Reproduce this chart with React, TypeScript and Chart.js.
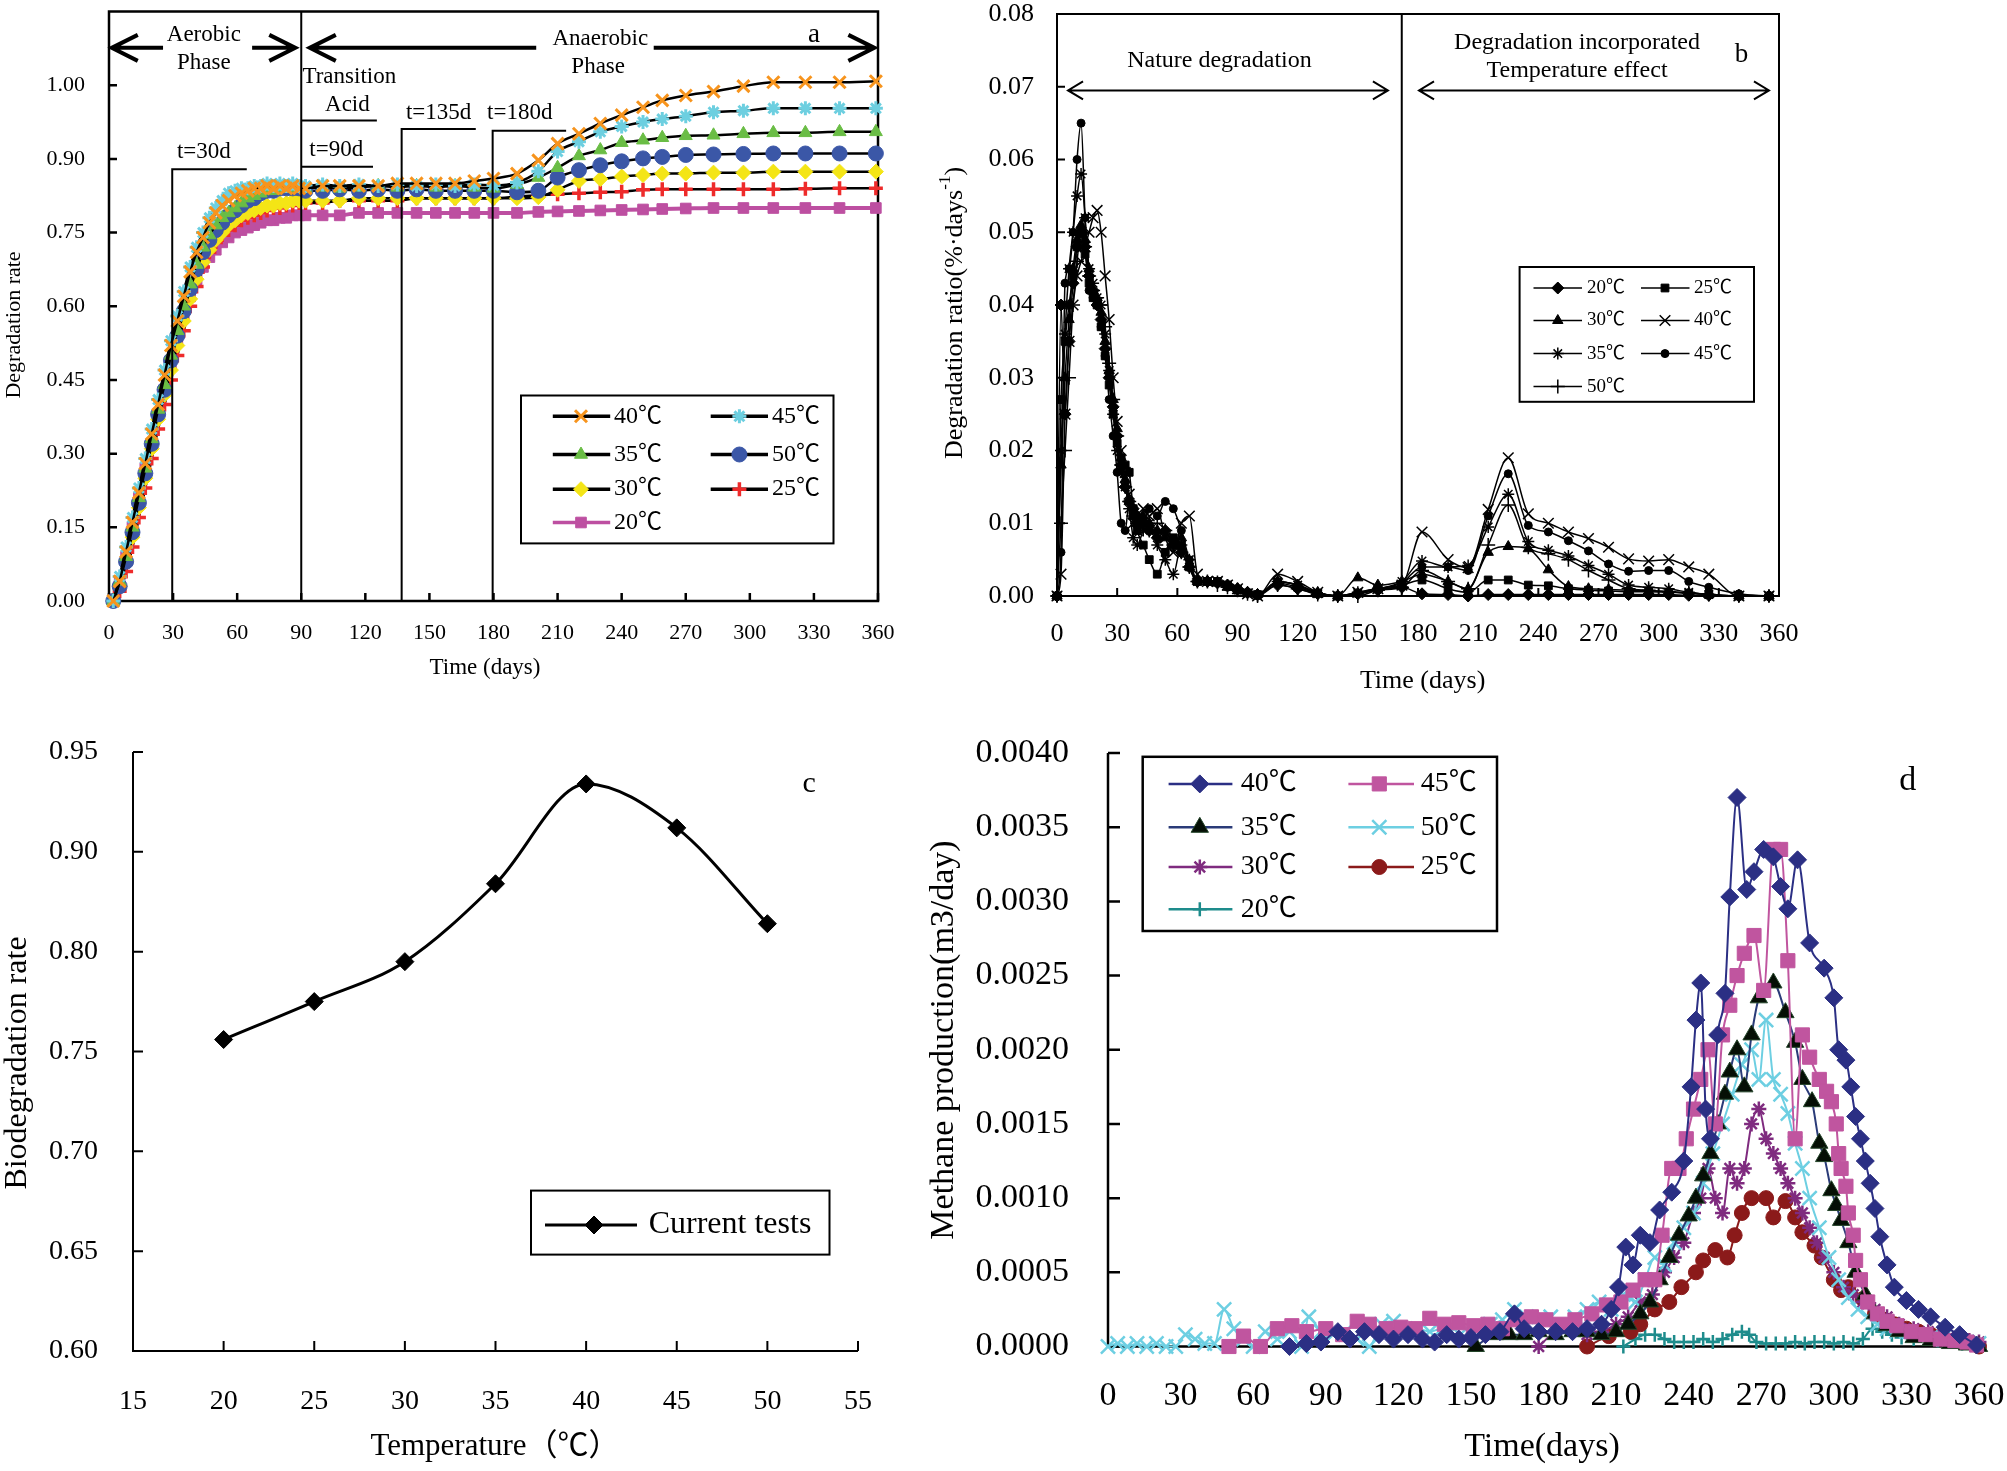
import { useEffect, useRef } from "react";
import Chart from "chart.js/auto";
import { drawPoint } from "chart.js/helpers";

const SERIF = "'Liberation Serif', 'Noto Sans CJK SC', serif";

// ---------- (a) degradation rate ----------
const A_DAYS = [
  2, 5, 8, 11, 14, 17, 20, 23, 26, 29, 32, 35, 38, 41, 44, 47, 50, 53, 56, 59, 62, 65, 68, 71, 74, 77, 80, 83, 86, 89,
  92, 100, 108, 117, 126, 135, 144, 153, 162, 171,
  180, 191, 201, 210, 220, 230, 240, 250, 259, 270, 283, 297, 311, 326, 342, 359,
];
const A_40 = [
  0, 0.04, 0.1, 0.16, 0.22, 0.28, 0.34, 0.4, 0.46, 0.52, 0.57, 0.62, 0.67, 0.71, 0.74, 0.77, 0.79, 0.805, 0.815, 0.825, 0.83, 0.835, 0.84, 0.84, 0.845, 0.84, 0.845, 0.84, 0.845, 0.84,
  0.84, 0.845, 0.845, 0.845, 0.845, 0.85, 0.85, 0.85, 0.85, 0.855,
  0.86, 0.87, 0.897, 0.931, 0.951, 0.972, 0.989, 1.005, 1.019, 1.029, 1.037, 1.048, 1.056, 1.056, 1.056, 1.058,
];
const A_45 = [
  0, 0.05, 0.11, 0.17, 0.23, 0.29, 0.35, 0.41, 0.47, 0.53, 0.58, 0.63, 0.68, 0.72, 0.75, 0.78, 0.8, 0.815, 0.83, 0.835, 0.84, 0.84, 0.845, 0.845, 0.85, 0.845, 0.85, 0.845, 0.85, 0.845,
  0.845, 0.848, 0.845, 0.848, 0.845, 0.848, 0.845, 0.848, 0.845, 0.848,
  0.846, 0.852, 0.875, 0.915, 0.935, 0.955, 0.966, 0.975, 0.981, 0.987, 0.995, 0.998, 1.003, 1.003, 1.003, 1.003,
];
const A_35 = [
  0, 0.04, 0.09, 0.15, 0.21, 0.27, 0.33, 0.39, 0.44, 0.5, 0.55, 0.6, 0.645, 0.685, 0.72, 0.745, 0.765, 0.78, 0.79, 0.8, 0.81, 0.82, 0.825, 0.83, 0.835, 0.835, 0.84, 0.84, 0.84, 0.84,
  0.84, 0.842, 0.84, 0.842, 0.845, 0.842, 0.845, 0.842, 0.845, 0.842,
  0.84, 0.848, 0.862, 0.882, 0.906, 0.918, 0.933, 0.938, 0.943, 0.947, 0.948, 0.951, 0.953, 0.953, 0.955, 0.955,
];
const A_50 = [
  0, 0.03, 0.08, 0.14, 0.2, 0.26, 0.32, 0.38, 0.43, 0.49, 0.54, 0.59, 0.635, 0.675, 0.71, 0.735, 0.755, 0.77, 0.785, 0.795, 0.805, 0.815, 0.82, 0.83, 0.835, 0.835, 0.84, 0.84, 0.84, 0.84,
  0.835, 0.835, 0.838, 0.835, 0.838, 0.835, 0.838, 0.835, 0.835, 0.835,
  0.835, 0.832, 0.835, 0.862, 0.877, 0.887, 0.895, 0.901, 0.904, 0.908, 0.909, 0.91, 0.911, 0.911, 0.911, 0.911,
];
const A_30 = [
  0, 0.03, 0.08, 0.13, 0.19, 0.25, 0.31, 0.37, 0.42, 0.47, 0.52, 0.57, 0.615, 0.655, 0.69, 0.715, 0.735, 0.75, 0.765, 0.775, 0.785, 0.79, 0.795, 0.8, 0.805, 0.805, 0.81, 0.81, 0.815, 0.815,
  0.815, 0.815, 0.815, 0.82, 0.82, 0.82, 0.82, 0.82, 0.82, 0.82,
  0.82, 0.82, 0.822, 0.837, 0.855, 0.859, 0.864, 0.867, 0.87, 0.87, 0.872, 0.872, 0.874, 0.874, 0.874, 0.874,
];
const A_25 = [
  0, 0.02, 0.06, 0.11, 0.17, 0.23, 0.29, 0.35, 0.4, 0.45, 0.5, 0.55, 0.6, 0.64, 0.68, 0.71, 0.73, 0.745, 0.755, 0.765, 0.775, 0.78, 0.785, 0.79, 0.795, 0.8, 0.8, 0.805, 0.805, 0.81,
  0.81, 0.81, 0.815, 0.815, 0.815, 0.815, 0.82, 0.82, 0.82, 0.82,
  0.82, 0.823, 0.826, 0.828, 0.83, 0.832, 0.833, 0.837, 0.838, 0.838, 0.838, 0.838, 0.838, 0.839, 0.84, 0.84,
];
const A_20 = [
  0, 0.04, 0.09, 0.15, 0.21, 0.27, 0.32, 0.38, 0.43, 0.48, 0.53, 0.58, 0.62, 0.655, 0.68, 0.7, 0.715, 0.73, 0.74, 0.75, 0.755, 0.76, 0.765, 0.77, 0.775, 0.775, 0.78, 0.78, 0.785, 0.785,
  0.785, 0.785, 0.785, 0.79, 0.79, 0.79, 0.79, 0.79, 0.79, 0.79,
  0.79, 0.79, 0.792, 0.793, 0.794, 0.795, 0.796, 0.797, 0.798, 0.799, 0.8, 0.8, 0.8, 0.8, 0.8, 0.8,
];
const A_LABELS = ["40℃", "45℃", "35℃", "50℃", "30℃", "25℃", "20℃"];
const A_X_TICKS = [0, 30, 60, 90, 120, 150, 180, 210, 240, 270, 300, 330, 360];
const A_Y_TICKS = [0, 0.15, 0.3, 0.45, 0.6, 0.75, 0.9, 1.05];
const A_Y_LABELS = ["0.00", "0.15", "0.30", "0.45", "0.60", "0.75", "0.90", "1.00"];

// ---------- (b) degradation ratio ----------
const B_DAYS = [
  0, 2, 4, 6, 8, 10, 12, 14, 16, 18, 20, 22, 24, 26, 28, 30, 32, 34, 36, 38, 40,
  43, 46, 50, 54, 58, 62, 66, 70, 75, 80, 85, 90, 95, 100, 110, 120, 130, 140, 150, 160, 172,
  182, 195, 205, 215, 225, 235, 245, 255, 265, 275, 285, 295, 305, 315, 325, 340, 355,
];
const B_20 = [
  0, 0.04, 0.025, 0.035, 0.043, 0.048, 0.05, 0.048, 0.044, 0.042, 0.04, 0.038, 0.034, 0.03, 0.026, 0.022, 0.018, 0.015, 0.013, 0.012, 0.011,
  0.01, 0.009, 0.008, 0.009, 0.007, 0.006, 0.004, 0.002, 0.002, 0.0018, 0.0015, 0.001, 0.0005, 0.0002, 0.0015, 0.001, 0.0003, 0, 0.0003, 0.0008, 0.0012,
  0.0003, 0.0002, 0, 0.0002, 0.0002, 0.0002, 0.0002, 0.0002, 0.0002, 0.0002, 0.0002, 0.0002, 0.0002, 0.0001, 0.0001, 0, 0,
];
const B_25 = [
  0, 0.027, 0.035, 0.04, 0.044, 0.048, 0.05, 0.047, 0.043, 0.041, 0.04, 0.037, 0.033, 0.029, 0.025, 0.021, 0.019, 0.018, 0.017, 0.012, 0.009,
  0.007, 0.005, 0.003, 0.006, 0.008, 0.007, 0.004, 0.002, 0.002, 0.002, 0.0015, 0.0008, 0.0004, 0.0002, 0.0018, 0.0012, 0.0004, 0, 0.0004, 0.001, 0.0015,
  0.0022, 0.001, 0.0005, 0.0022, 0.0022, 0.0015, 0.0014, 0.001, 0.0008, 0.0007, 0.0006, 0.0006, 0.0005, 0.0004, 0.0002, 0, 0,
];
const B_30 = [
  0, 0.018, 0.03, 0.038, 0.045, 0.049, 0.051, 0.049, 0.045, 0.042, 0.041, 0.039, 0.035, 0.031, 0.027, 0.023, 0.019, 0.016, 0.013, 0.011, 0.01,
  0.011, 0.01, 0.009, 0.008, 0.007, 0.008, 0.004, 0.002, 0.002, 0.0018, 0.0012, 0.001, 0.0005, 0.0002, 0.002, 0.0015, 0.0005, 0, 0.0025, 0.0015, 0.002,
  0.003, 0.002, 0.001, 0.006, 0.0068, 0.0065, 0.0036, 0.0013, 0.001, 0.0009, 0.0008, 0.0007, 0.0006, 0.0004, 0.0002, 0, 0,
];
const B_40 = [
  0, 0.003, 0.025, 0.035, 0.04, 0.044, 0.046, 0.048, 0.05, 0.052, 0.053, 0.05, 0.044, 0.038, 0.03, 0.024, 0.02, 0.017, 0.014, 0.01, 0.009,
  0.012, 0.011, 0.012, 0.008, 0.006, 0.01, 0.011, 0.003, 0.002, 0.002, 0.0015, 0.001, 0.0003, 0, 0.003, 0.002, 0.0005, 0, 0.0005, 0.001, 0.0015,
  0.0088, 0.005, 0.0039, 0.0119, 0.019, 0.0113, 0.01, 0.0088, 0.0079, 0.0067, 0.0051, 0.0048, 0.005, 0.004, 0.003, 0, 0,
];
const B_35 = [
  0, 0.02, 0.036, 0.045, 0.05, 0.055, 0.058, 0.052, 0.045, 0.043, 0.041, 0.04, 0.036, 0.031, 0.025, 0.02, 0.017, 0.015, 0.012, 0.008, 0.007,
  0.009, 0.01, 0.007, 0.005, 0.003, 0.007, 0.005, 0.002, 0.002, 0.002, 0.0015, 0.001, 0.0004, 0, 0.002, 0.0015, 0.0003, 0, 0.0005, 0.001, 0.002,
  0.0048, 0.004, 0.0042, 0.0095, 0.014, 0.0075, 0.0063, 0.0055, 0.0042, 0.003, 0.0015, 0.0012, 0.001, 0.0005, 0.0002, 0, 0,
];
const B_45 = [
  0, 0.006, 0.043, 0.045, 0.05, 0.06, 0.065, 0.052, 0.042, 0.041, 0.04, 0.037, 0.033, 0.027, 0.022, 0.017, 0.01, 0.009, 0.013, 0.011, 0.01,
  0.01, 0.012, 0.011, 0.013, 0.012, 0.009, 0.005, 0.002, 0.002, 0.0018, 0.0012, 0.0008, 0.0004, 0, 0.002, 0.0015, 0.0004, 0, 0.0004, 0.001, 0.0018,
  0.004, 0.004, 0.0035, 0.011, 0.0168, 0.0097, 0.0088, 0.0076, 0.0062, 0.0044, 0.0034, 0.0035, 0.0035, 0.002, 0.0012, 0.0003, 0,
];
const B_50 = [
  0, 0.01, 0.02, 0.03, 0.04, 0.046, 0.05, 0.048, 0.044, 0.042, 0.041, 0.04, 0.037, 0.032, 0.027, 0.022, 0.018, 0.015, 0.013, 0.011, 0.01,
  0.01, 0.009, 0.01, 0.009, 0.007, 0.006, 0.004, 0.002, 0.002, 0.0015, 0.0012, 0.0008, 0.0003, 0, 0.0015, 0.001, 0.0002, 0, 0, 0.0008, 0.0012,
  0.0035, 0.002, 0.001, 0.007, 0.0125, 0.0067, 0.0058, 0.005, 0.0035, 0.0022, 0.001, 0.0008, 0.0006, 0.0004, 0.0002, 0, 0,
];
const B_LABELS = ["20℃", "25℃", "30℃", "40℃", "35℃", "45℃", "50℃"];
const B_Y_TICKS = [0, 0.01, 0.02, 0.03, 0.04, 0.05, 0.06, 0.07, 0.08];

// ---------- (c) biodegradation vs temperature ----------
const C_TEMPS = [20, 25, 30, 35, 40, 45, 50];
const C_RATE = [0.756, 0.775, 0.795, 0.834, 0.884, 0.862, 0.814];
const C_X_TICKS = [15, 20, 25, 30, 35, 40, 45, 50, 55];
const C_Y_TICKS = [0.6, 0.65, 0.7, 0.75, 0.8, 0.85, 0.9];
const C_Y_LABELS = ["0.60", "0.65", "0.70", "0.75", "0.80", "0.90", "0.95"];

// ---------- (d) methane production ----------
const D40_DAYS = [75, 82, 88, 95, 100, 106, 112, 118, 124, 130, 135, 140, 145, 150, 156, 162, 168, 172, 178, 185, 192, 198, 204, 208, 211, 214, 217, 220, 224, 228, 233, 238, 241, 243, 245, 247, 249, 252, 255, 257, 260, 264, 267, 271, 275, 278, 281, 285, 290, 296, 300, 302, 305, 307, 309, 311, 313, 315, 317, 319, 322, 325, 330, 335, 340, 346, 352, 359];
const D40 = [0, 0.00002, 0.00003, 0.0001, 0.00005, 0.0001, 0.00008, 0.00005, 0.00008, 0.00005, 0.00003, 0.00008, 0.00005, 0.00006, 0.00008, 0.0001, 0.00022, 0.00012, 0.0001, 0.0001, 0.0001, 0.00012, 0.00015, 0.00025, 0.0004, 0.00067, 0.00055, 0.00075, 0.0007, 0.00092, 0.00104, 0.00125, 0.00175, 0.0022, 0.00245, 0.0016, 0.0014, 0.0021, 0.00238, 0.00303, 0.0037, 0.00308, 0.0032, 0.00335, 0.0033, 0.0031, 0.00295, 0.00328, 0.00272, 0.00255, 0.00235, 0.002, 0.00193, 0.00175, 0.00155, 0.0014, 0.00125, 0.0011, 0.00093, 0.00074, 0.00055, 0.0004, 0.00031, 0.00025, 0.0002, 0.00013, 0.00008, 0.00001];
const D45_DAYS = [50, 56, 63, 70, 76, 82, 90, 97, 103, 108, 115, 121, 127, 133, 139, 145, 151, 157, 163, 169, 175, 181, 187, 193, 200, 206, 212, 217, 222, 226, 229, 233, 236, 239, 242, 245, 248, 251, 254, 257, 260, 263, 267, 271, 275, 278, 281, 284, 287, 290, 294, 297, 299, 301, 302, 303, 305, 306, 308, 309, 311, 314, 318, 322, 326, 332, 338, 344, 350, 355, 359];
const D45 = [0, 0.00007, 0, 0.00012, 0.00014, 0.0001, 0.00012, 0.00008, 0.00017, 0.00015, 0.00012, 0.00013, 0.00012, 0.00019, 0.00015, 0.00016, 0.00014, 0.00015, 0.00012, 0.00018, 0.0002, 0.00018, 0.00015, 0.00018, 0.00022, 0.00028, 0.0003, 0.00038, 0.00045, 0.00045, 0.00075, 0.0012, 0.0012, 0.0014, 0.0016, 0.0018, 0.002, 0.0015, 0.0021, 0.0023, 0.0025, 0.00265, 0.00277, 0.0024, 0.00335, 0.00335, 0.0026, 0.0014, 0.0021, 0.00195, 0.0018, 0.00172, 0.00165, 0.0015, 0.0013, 0.0012, 0.00108, 0.0009, 0.00075, 0.00058, 0.00045, 0.0003, 0.00022, 0.00017, 0.00014, 0.0001, 0.00008, 0.00005, 0.00004, 0.00003, 0.00001];
const D35_DAYS = [152, 160, 166, 172, 178, 185, 192, 198, 204, 210, 215, 220, 224, 228, 232, 236, 240, 243, 246, 249, 252, 255, 257, 260, 263, 266, 269, 275, 280, 284, 287, 291, 294, 296, 299, 301, 303, 306, 309, 313, 317, 322, 327, 333, 340, 348, 355, 360];
const D35 = [0, 0.00008, 0.00008, 0.00008, 0.0001, 0.00008, 0.0001, 0.0001, 0.00008, 0.0001, 0.00015, 0.00022, 0.0003, 0.00045, 0.0006, 0.00075, 0.00088, 0.001, 0.00115, 0.0013, 0.0015, 0.0017, 0.00185, 0.002, 0.00175, 0.0021, 0.00235, 0.00245, 0.00225, 0.00205, 0.0018, 0.00165, 0.00137, 0.00128, 0.00105, 0.00095, 0.00085, 0.0007, 0.0005, 0.00035, 0.00022, 0.00014, 0.0001, 0.00006, 0.00004, 0.00002, 0.00001, 0];
const D50_DAYS = [0, 4, 8, 12, 16, 20, 24, 28, 32, 36, 40, 44, 48, 52, 56, 60, 65, 70, 75, 80, 83, 88, 93, 98, 103, 108, 113, 118, 123, 128, 133, 138, 143, 148, 153, 158, 163, 168, 173, 178, 183, 188, 193, 198, 203, 208, 213, 218, 222, 226, 230, 234, 238, 242, 246, 250, 254, 258, 262, 266, 269, 272, 275, 278, 281, 284, 287, 290, 294, 298, 302, 306, 310, 314, 318, 322, 326, 330, 335, 340, 345, 350, 355, 360];
const D50 = [0, 0.00002, 0, 0.00002, 0, 0.00002, 0, 0, 0.00008, 0.00005, 0.00002, 0.00002, 0.00025, 0.00012, 0.00005, 0, 0.0001, 0.00005, 0.0001, 0, 0.0002, 0.0001, 0.00008, 0.0001, 0.00005, 0, 0.00015, 0.00017, 0.0001, 0.00012, 0.0001, 0.00012, 0.00012, 0.00012, 0.00012, 0.00015, 0.00018, 0.00025, 0.0002, 0.00015, 0.0002, 0.00012, 0.0002, 0.00025, 0.0003, 0.00025, 0.00035, 0.0003, 0.00045, 0.0006, 0.00055, 0.0007, 0.0008, 0.0009, 0.0011, 0.0013, 0.0015, 0.0017, 0.0019, 0.002, 0.0018, 0.0022, 0.0018, 0.0017, 0.00157, 0.00137, 0.0012, 0.001, 0.0008, 0.0006, 0.00045, 0.00033, 0.00025, 0.0002, 0.00015, 0.00012, 0.0001, 0.0001, 0.00008, 0.00006, 0.00005, 0.00004, 0.00003, 0.00002];
const D30_DAYS = [178, 185, 192, 198, 204, 210, 215, 220, 225, 230, 234, 238, 242, 245, 248, 251, 254, 257, 260, 263, 266, 269, 272, 275, 278, 281, 284, 287, 290, 293, 296, 300, 304, 308, 312, 317, 322, 327, 333, 339, 345, 351, 356, 360];
const D30 = [0, 0.0001, 0.00012, 0.00008, 0.0001, 0.00015, 0.0002, 0.0003, 0.00035, 0.0005, 0.0006, 0.0007, 0.0009, 0.001, 0.0012, 0.001, 0.0009, 0.0012, 0.0011, 0.0012, 0.0015, 0.0016, 0.0014, 0.0013, 0.0012, 0.0011, 0.001, 0.0009, 0.0008, 0.0007, 0.0006, 0.0005, 0.0004, 0.00035, 0.0003, 0.00025, 0.0002, 0.00015, 0.00012, 0.0001, 0.00008, 0.00006, 0.00004, 0.00003];
const D25_DAYS = [198, 207, 216, 220, 226, 232, 237, 243, 246, 251, 256, 259, 262, 266, 272, 275, 280, 284, 287, 292, 295, 300, 303, 306, 312, 317, 321, 325, 330, 335, 340, 345, 350, 355, 360];
const D25 = [0, 0.00007, 0.0001, 0.00015, 0.00025, 0.0003, 0.0004, 0.0005, 0.00058, 0.00065, 0.0006, 0.00075, 0.0009, 0.001, 0.001, 0.00087, 0.00098, 0.00087, 0.00077, 0.00068, 0.0006, 0.00045, 0.00038, 0.0004, 0.00032, 0.00022, 0.00018, 0.00015, 0.00012, 0.0001, 0.00008, 0.00006, 0.00004, 0.00003, 0];
const D20_DAYS = [213, 218, 222, 226, 230, 234, 238, 242, 246, 250, 254, 258, 262, 265, 268, 272, 276, 280, 284, 288, 292, 296, 300, 304, 308, 312, 316, 320, 324, 328, 333, 338, 343, 348, 353, 358];
const D20 = [0, 0.00005, 0.00008, 0.00008, 0.00005, 0.00003, 0.00003, 0.00003, 0.00005, 0.00003, 0.00005, 0.00008, 0.0001, 0.00008, 0.00003, 0.00002, 0.00002, 0.00002, 0.00003, 0.00002, 0.00003, 0.00003, 0.00002, 0.00003, 0.00002, 0.00005, 0.00012, 0.0001, 0.00008, 0.00006, 0.00005, 0.00005, 0.00004, 0.00003, 0.00002, 0.00002];
const D_LABELS = ["40℃", "45℃", "35℃", "50℃", "30℃", "25℃", "20℃"];
const D_Y_TICKS = [0, 0.0005, 0.001, 0.0015, 0.002, 0.0025, 0.003, 0.0035, 0.004];

// ---------- styles ----------
interface Mark { color: string; fill?: string; line: string; point: string; r: number; bw: number }

const A_STYLE: Mark[] = [
  { color: "#F7941D", line: "#000", point: "crossRot", r: 8.5, bw: 3 },
  { color: "#6DCFE0", line: "#000", point: "star", r: 7, bw: 3 },
  { color: "#6ABD45", line: "#000", point: "triangle", r: 7.5, bw: 1 },
  { color: "#3B57A7", line: "#000", point: "circle", r: 7.5, bw: 1 },
  { color: "#F4E516", line: "#000", point: "rectRot", r: 7.5, bw: 1 },
  { color: "#EE2B2B", line: "#000", point: "cross", r: 7, bw: 3.5 },
  { color: "#BD4FA1", line: "#BD4FA1", point: "rect", r: 7.5, bw: 1 },
];
const B_STYLE: Mark[] = [
  { color: "#000", line: "#000", point: "rectRot", r: 6, bw: 1 },
  { color: "#000", line: "#000", point: "rect", r: 5.5, bw: 1 },
  { color: "#000", line: "#000", point: "triangle", r: 6, bw: 1 },
  { color: "#000", line: "#000", point: "crossRot", r: 7.5, bw: 1.5 },
  { color: "#000", line: "#000", point: "star", r: 6, bw: 1.5 },
  { color: "#000", line: "#000", point: "circle", r: 4, bw: 1 },
  { color: "#000", line: "#000", point: "cross", r: 7, bw: 1.5 },
];
const C_STYLE: Mark = { color: "#000", line: "#000", point: "rectRot", r: 9, bw: 1 };
const D_STYLE: Mark[] = [
  { color: "#2B2F84", line: "#2B2F84", point: "rectRot", r: 9, bw: 1 },
  { color: "#C0559F", line: "#C0559F", point: "rect", r: 10, bw: 1 },
  { color: "#24452A", fill: "#050F05", line: "#2A3B78", point: "triangle", r: 10, bw: 1 },
  { color: "#6DCFE2", line: "#6DCFE2", point: "crossRot", r: 10, bw: 2.5 },
  { color: "#7F2B7F", line: "#7F2B7F", point: "star", r: 7.5, bw: 2.5 },
  { color: "#8B1A1A", line: "#8B1A1A", point: "circle", r: 7.5, bw: 1 },
  { color: "#1E8C8C", line: "#1E8C8C", point: "cross", r: 7, bw: 2.5 },
];

// ---------- helpers ----------
const font = (size: number) => ({ family: SERIF, size, lineHeight: 1 });

function lineSet(label: string, xs: number[], ys: number[], st: Mark, width: number, clip: any = false) {
  return {
    label,
    data: xs.map((x, i) => ({ x, y: ys[i] })),
    borderColor: st.line,
    borderWidth: width,
    pointStyle: st.point,
    pointRadius: st.r,
    pointBackgroundColor: st.fill ?? st.color,
    pointBorderColor: st.color,
    pointBorderWidth: st.bw,
    cubicInterpolationMode: "monotone",
    fill: false,
    clip,
  };
}

function zeroPad(s: any) {
  s.paddingTop = 0;
  s.paddingBottom = 0;
  s.paddingLeft = 0;
  s.paddingRight = 0;
}

function scaleX(ticks: number[], min: number, max: number, size: number, pad: number, height: number) {
  return {
    type: "linear",
    min,
    max,
    afterBuildTicks: (s: any) => { s.ticks = ticks.map((value) => ({ value })); },
    afterFit: (s: any) => { s.height = height; zeroPad(s); },
    grid: { display: false, drawTicks: false },
    border: { display: false },
    ticks: { font: font(size), color: "#000", padding: pad, maxRotation: 0, autoSkip: false },
  };
}

function scaleY(ticks: number[], labels: string[], min: number, max: number, size: number, pad: number, width: number) {
  return {
    type: "linear",
    min,
    max,
    afterBuildTicks: (s: any) => { s.ticks = ticks.map((value) => ({ value })); },
    afterFit: (s: any) => { s.width = width; zeroPad(s); },
    grid: { display: false, drawTicks: false },
    border: { display: false },
    ticks: { font: font(size), color: "#000", padding: pad, autoSkip: false, callback: (_v: any, i: number) => labels[i] },
  };
}

function drawText(ctx: CanvasRenderingContext2D, text: string, x: number, y: number, size: number, align: CanvasTextAlign = "center", rotate = false) {
  ctx.save();
  ctx.font = `${size}px ${SERIF}`;
  ctx.fillStyle = "#000";
  ctx.textAlign = align;
  ctx.textBaseline = "middle";
  ctx.translate(x, y);
  if (rotate) ctx.rotate(-Math.PI / 2);
  ctx.fillText(text, 0, 0);
  ctx.restore();
}

interface FrameOpts { box: boolean; tick: number; xTicks: boolean; lw: number }

function drawFrame(chart: any, o: FrameOpts) {
  const { ctx, chartArea: a, scales } = chart;
  ctx.save();
  ctx.strokeStyle = "#000";
  ctx.lineWidth = o.lw;
  ctx.beginPath();
  if (o.box) {
    ctx.rect(a.left, a.top, a.right - a.left, a.bottom - a.top);
  } else {
    ctx.moveTo(a.left, a.top);
    ctx.lineTo(a.left, a.bottom);
    ctx.lineTo(a.right, a.bottom);
  }
  ctx.stroke();
  ctx.beginPath();
  scales.y.ticks.forEach((_t: any, i: number) => {
    const y = scales.y.getPixelForTick(i);
    ctx.moveTo(a.left, y);
    ctx.lineTo(a.left + o.tick, y);
  });
  if (o.xTicks) {
    scales.x.ticks.forEach((_t: any, i: number) => {
      const x = scales.x.getPixelForTick(i);
      ctx.moveTo(x, a.bottom);
      ctx.lineTo(x, a.bottom - o.tick);
    });
  }
  ctx.stroke();
  ctx.restore();
}

// double arrow with optional gap for text in the shaft
function hArrow(ctx: CanvasRenderingContext2D, x1: number, x2: number, y: number, head: number, spread: number, lw: number, gap?: [number, number]) {
  ctx.save();
  ctx.strokeStyle = "#000";
  ctx.lineWidth = lw;
  ctx.beginPath();
  if (gap) {
    ctx.moveTo(x1, y); ctx.lineTo(gap[0], y);
    ctx.moveTo(gap[1], y); ctx.lineTo(x2, y);
  } else {
    ctx.moveTo(x1, y); ctx.lineTo(x2, y);
  }
  ctx.moveTo(x1 + head, y - spread); ctx.lineTo(x1, y); ctx.lineTo(x1 + head, y + spread);
  ctx.moveTo(x2 - head, y - spread); ctx.lineTo(x2, y); ctx.lineTo(x2 - head, y + spread);
  ctx.stroke();
  ctx.restore();
}

interface LegendBox {
  box: [number, number, number, number];
  rows: number[];
  cols: { l1: number; l2: number; m: number; t: number }[];
  size: number;
  lw: number;
  lineW: number;
}

function drawLegend(ctx: CanvasRenderingContext2D, lg: LegendBox, labels: string[], styles: Mark[]) {
  const [x1, y1, x2, y2] = lg.box;
  ctx.save();
  ctx.fillStyle = "#fff";
  ctx.fillRect(x1, y1, x2 - x1, y2 - y1);
  ctx.strokeStyle = "#000";
  ctx.lineWidth = lg.lw;
  ctx.strokeRect(x1, y1, x2 - x1, y2 - y1);
  labels.forEach((lab, i) => {
    const c = lg.cols[i % lg.cols.length];
    const y = lg.rows[Math.floor(i / lg.cols.length)];
    const st = styles[i];
    ctx.strokeStyle = st.line;
    ctx.lineWidth = lg.lineW;
    ctx.beginPath();
    ctx.moveTo(c.l1, y);
    ctx.lineTo(c.l2, y);
    ctx.stroke();
    ctx.fillStyle = st.fill ?? st.color;
    ctx.strokeStyle = st.color;
    ctx.lineWidth = st.bw;
    drawPoint(ctx, { pointStyle: st.point as any, radius: st.r, borderWidth: st.bw, rotation: 0 } as any, c.m, y);
    drawText(ctx, lab, c.t, y, lg.size, "left");
  });
  ctx.restore();
}

function baseOptions(top: number, right: number, x: any, y: any) {
  return {
    responsive: false,
    animation: false,
    events: [],
    layout: { padding: { top, right, left: 0, bottom: 0 } },
    plugins: { legend: { display: false }, tooltip: { enabled: false }, title: { display: false } },
    scales: { x, y },
  };
}

function decor(frame: FrameOpts, draw: (chart: any) => void) {
  return {
    id: "decor",
    beforeDatasetsDraw: (chart: any) => drawFrame(chart, frame),
    afterDatasetsDraw: (chart: any) => draw(chart),
  };
}

// ---------- panel a ----------
const A_MARKS = [
  { day: 29.6, top: 0.879, end: 64.5, text: "t=30d", tx: 44.4, ty: 0.915 },
  { day: 90, top: 0.884, end: 123.6, text: "t=90d", tx: 106.4, ty: 0.919 },
  { day: 137, top: 0.961, end: 171.7, text: "t=135d", tx: 154.3, ty: 0.994 },
  { day: 179.6, top: 0.957, end: 214, text: "t=180d", tx: 192.3, ty: 0.994 },
];
const A_LEGEND: LegendBox = {
  box: [521, 395.5, 833.5, 543.4],
  rows: [416.3, 454.5, 489.2, 522.5],
  cols: [{ l1: 552.8, l2: 610.2, m: 581, t: 614 }, { l1: 710.7, l2: 768, m: 739.4, t: 772 }],
  size: 24, lw: 2, lineW: 3.5,
};

function buildA() {
  const series = [A_40, A_45, A_35, A_50, A_30, A_25, A_20];
  const datasets = series.map((ys, i) => lineSet(A_LABELS[i], A_DAYS, ys, A_STYLE[i], i === 6 ? 4 : 2.5, undefined));
  return {
    type: "line",
    data: { datasets },
    options: baseOptions(9, 22, scaleX(A_X_TICKS, 0, 360, 22, 21, 99), scaleY(A_Y_TICKS, A_Y_LABELS, 0, 1.2, 22, 24, 109)),
    plugins: [
      decor({ box: true, tick: 8, xTicks: true, lw: 2.5 }, (chart) => {
        const { ctx, chartArea: ca } = chart;
        const X = (v: number) => chart.scales.x.getPixelForValue(v);
        const Y = (v: number) => chart.scales.y.getPixelForValue(v);
        ctx.save();
        ctx.strokeStyle = "#000";
        ctx.lineWidth = 2;
        ctx.beginPath();
        ctx.moveTo(X(90), ca.top);
        ctx.lineTo(X(90), ca.bottom);
        A_MARKS.forEach((m) => {
          ctx.moveTo(X(m.day), Y(0));
          ctx.lineTo(X(m.day), Y(m.top));
          ctx.lineTo(X(m.end), Y(m.top));
        });
        ctx.moveTo(X(90), Y(0.978));
        ctx.lineTo(X(125.4), Y(0.978));
        ctx.stroke();
        ctx.restore();
        A_MARKS.forEach((m) => drawText(ctx, m.text, X(m.tx), Y(m.ty), 23));
        drawText(ctx, "Transition", X(112.5), Y(1.067), 23);
        drawText(ctx, "Acid", X(111.6), Y(1.01), 23);
        hArrow(ctx, X(1.3), X(87.2), Y(1.126), 26, 13, 4, [X(25.3), X(67)]);
        hArrow(ctx, X(94), X(358.3), Y(1.126), 26, 13, 4, [X(200), X(255)]);
        drawText(ctx, "Aerobic", X(44.4), Y(1.152), 23);
        drawText(ctx, "Phase", X(44.4), Y(1.095), 23);
        drawText(ctx, "Anaerobic", X(230), Y(1.144), 23);
        drawText(ctx, "Phase", X(229), Y(1.088), 23);
        drawText(ctx, "a", X(330), Y(1.152), 27);
        drawLegend(ctx, A_LEGEND, A_LABELS, A_STYLE);
        drawText(ctx, "Time (days)", 485, 668, 23);
        drawText(ctx, "Degradation rate", 14, 325, 22, "center", true);
      }),
    ],
  };
}

// ---------- panel b ----------
const B_LEGEND: LegendBox = {
  box: [599.6, 267, 834, 401.8],
  rows: [288, 320.5, 353.6, 386.6],
  cols: [{ l1: 613.5, l2: 662, m: 637.8, t: 667 }, { l1: 721, l2: 769.5, m: 745, t: 774 }],
  size: 19, lw: 2, lineW: 1.5,
};

function buildB() {
  const series = [B_20, B_25, B_30, B_40, B_35, B_45, B_50];
  const datasets = series.map((ys, i) => lineSet(B_LABELS[i], B_DAYS, ys, B_STYLE[i], 1.5));
  return {
    type: "line",
    data: { datasets },
    options: baseOptions(14, 228, scaleX(A_X_TICKS, 0, 360, 26, 25, 104), scaleY(B_Y_TICKS, B_Y_TICKS.map((v) => v.toFixed(2)), 0, 0.08, 26, 23, 137)),
    plugins: [
      decor({ box: true, tick: 8, xTicks: true, lw: 2 }, (chart) => {
        const { ctx, chartArea: ca } = chart;
        const X = (v: number) => chart.scales.x.getPixelForValue(v);
        const Y = (v: number) => chart.scales.y.getPixelForValue(v);
        ctx.save();
        ctx.strokeStyle = "#000";
        ctx.lineWidth = 2;
        ctx.beginPath();
        ctx.moveTo(X(171.9), ca.top);
        ctx.lineTo(X(171.9), ca.bottom);
        ctx.stroke();
        ctx.restore();
        hArrow(ctx, X(5.5), X(165), Y(0.0695), 15, 9, 2);
        hArrow(ctx, X(180.5), X(355), Y(0.0695), 15, 9, 2);
        drawText(ctx, "Nature degradation", X(81), Y(0.0736), 24);
        drawText(ctx, "Degradation incorporated", X(259.3), Y(0.0761), 24);
        drawText(ctx, "Temperature effect", X(259.3), Y(0.0722), 24);
        drawText(ctx, "b", X(341.3), Y(0.0744), 27);
        drawLegend(ctx, B_LEGEND, B_LABELS, B_STYLE);
        drawText(ctx, "Time (days)", 502.6, 681, 26);
        // y title with superscript
        ctx.save();
        ctx.translate(34.7, 313);
        ctx.rotate(-Math.PI / 2);
        ctx.fillStyle = "#000";
        ctx.textBaseline = "middle";
        ctx.textAlign = "left";
        const main = "Degradation ratio(%·days";
        ctx.font = `26px ${SERIF}`;
        const w1 = ctx.measureText(main).width;
        const w3 = ctx.measureText(")").width;
        ctx.font = `17px ${SERIF}`;
        const w2 = ctx.measureText("-1").width;
        let cx = -(w1 + w2 + w3) / 2;
        ctx.font = `26px ${SERIF}`;
        ctx.fillText(main, cx, 0);
        cx += w1;
        ctx.font = `17px ${SERIF}`;
        ctx.fillText("-1", cx, -9);
        cx += w2;
        ctx.font = `26px ${SERIF}`;
        ctx.fillText(")", cx, 0);
        ctx.restore();
      }),
    ],
  };
}

// ---------- panel c ----------
const C_LEGEND: LegendBox = {
  box: [531, 490.6, 829.5, 554.6],
  rows: [525],
  cols: [{ l1: 545, l2: 637, m: 594, t: 648.7 }],
  size: 32, lw: 2, lineW: 3,
};

function buildC() {
  const datasets = [lineSet("Current tests", C_TEMPS, C_RATE, C_STYLE, 3)];
  return {
    type: "line",
    data: { datasets },
    options: baseOptions(52, 42, scaleX(C_X_TICKS, 15, 55, 28, 37, 120), scaleY(C_Y_TICKS, C_Y_LABELS, 0.6, 0.9, 28, 35, 133)),
    plugins: [
      decor({ box: false, tick: 10, xTicks: true, lw: 2 }, (chart) => {
        const { ctx } = chart;
        const X = (v: number) => chart.scales.x.getPixelForValue(v);
        const Y = (v: number) => chart.scales.y.getPixelForValue(v);
        drawText(ctx, "c", X(52.3), Y(0.884), 30);
        drawLegend(ctx, C_LEGEND, ["Current tests"], [C_STYLE]);
        drawText(ctx, "Temperature（℃）", 495, 747, 31);
        drawText(ctx, "Biodegradation rate", 18, 363, 32, "center", true);
      }),
    ],
  };
}

// ---------- panel d ----------
const D_LEGEND: LegendBox = {
  box: [222.7, 56.8, 577, 231],
  rows: [83.9, 127.3, 167, 209.3],
  cols: [{ l1: 248.6, l2: 312.4, m: 279.8, t: 320.8 }, { l1: 428.4, l2: 494, m: 459.3, t: 500.7 }],
  size: 28, lw: 2.5, lineW: 2.5,
};

function buildD() {
  const days = [D40_DAYS, D45_DAYS, D35_DAYS, D50_DAYS, D30_DAYS, D25_DAYS, D20_DAYS];
  const vals = [D40, D45, D35, D50, D30, D25, D20];
  const datasets = vals.map((ys, i) => lineSet(D_LABELS[i], days[i], ys, D_STYLE[i], 2));
  return {
    type: "line",
    data: { datasets },
    options: baseOptions(53, 28, scaleX(A_X_TICKS, 0, 360, 34, 33, 124.5), scaleY(D_Y_TICKS, D_Y_TICKS.map((v) => v.toFixed(4)), 0, 0.004, 34, 39, 188)),
    plugins: [
      decor({ box: false, tick: 12, xTicks: false, lw: 2.5 }, (chart) => {
        const { ctx } = chart;
        const X = (v: number) => chart.scales.x.getPixelForValue(v);
        const Y = (v: number) => chart.scales.y.getPixelForValue(v);
        drawText(ctx, "d", X(330.6), Y(0.00381), 34);
        drawLegend(ctx, D_LEGEND, D_LABELS, D_STYLE);
        drawText(ctx, "Time(days)", 622, 747, 34);
        drawText(ctx, "Methane production(m3/day)", 24, 340, 34, "center", true);
      }),
    ],
  };
}

// ---------- components ----------
interface PanelProps { left: number; top: number; width: number; height: number; build: () => any }

const Panel = ({ left, top, width, height, build }: PanelProps) => {
  const canvasRef = useRef<HTMLCanvasElement>(null);

  useEffect(() => {
    if (!canvasRef.current) return;
    const chart = new Chart(canvasRef.current, build());
    return () => chart.destroy();
  }, [build]);

  return (
    <canvas
      ref={canvasRef}
      width={width}
      height={height}
      style={{ position: "absolute", left, top, width, height }}
    />
  );
};

export default function App() {
  return (
    <div style={{ position: "absolute", left: 0, top: 0, width: 2007, height: 1471, background: "#fff", overflow: "hidden" }}>
      <Panel left={0} top={0} width={900} height={700} build={buildA} />
      <Panel left={920} top={0} width={1087} height={700} build={buildB} />
      <Panel left={0} top={700} width={900} height={771} build={buildC} />
      <Panel left={920} top={700} width={1087} height={771} build={buildD} />
    </div>
  );
}
